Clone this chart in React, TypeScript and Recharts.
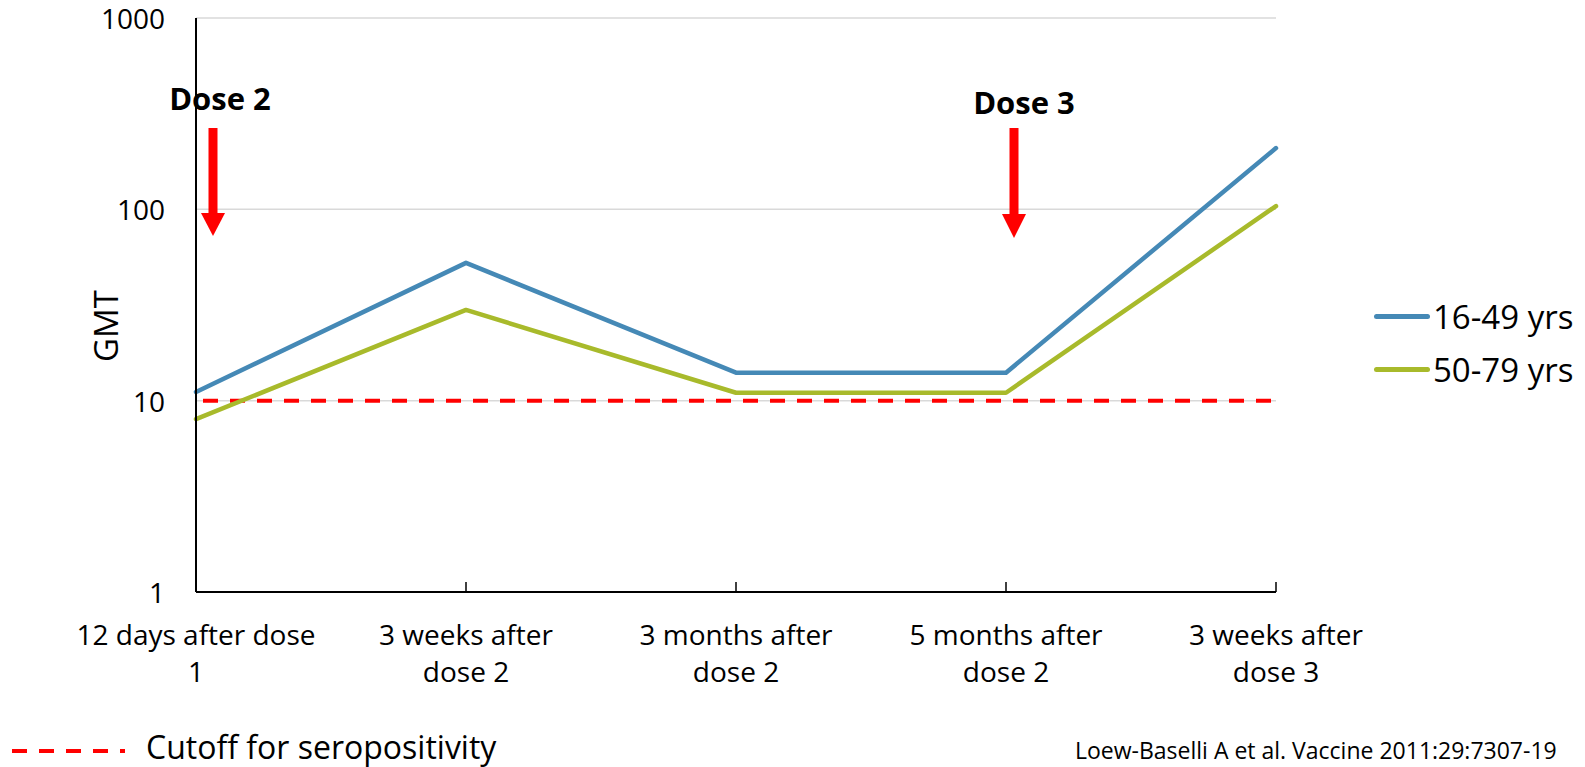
import { LineChart, Line, XAxis, YAxis, CartesianGrid, ReferenceLine } from 'recharts'

const categories = [
  '12 days after dose\n1',
  '3 weeks after\ndose 2',
  '3 months after\ndose 2',
  '5 months after\ndose 2',
  '3 weeks after\ndose 3',
]
const young = [11.1, 52.5, 14, 14, 209]
const older = [8.0, 29.8, 11, 11, 104]
const cutoff = 10
const yTicks = [1, 10, 100, 1000]

const series = [
  { key: 'young', name: '16-49 yrs', color: '#4589B6' },
  { key: 'older', name: '50-79 yrs', color: '#A8BA2B' },
]

const data = categories.map((label, i) => ({ label, young: young[i], older: older[i] }))

const FONT = '"Open Sans", "Noto Sans", sans-serif'

function CategoryTick(props: any) {
  const { x, y, payload } = props
  const lines = String(payload.value).split('\n')
  return (
    <g>
      {lines.map((ln, i) => (
        <text
          key={i}
          x={x}
          y={y + 52 + i * 37}
          textAnchor="middle"
          dominantBaseline="central"
          fontSize={28}
          fill="#000"
          fontFamily={FONT}
        >
          {ln}
        </text>
      ))}
    </g>
  )
}

function ValueTick(props: any) {
  const { x, y, payload } = props
  return (
    <text x={x} y={y} textAnchor="end" dominantBaseline="central" fontSize={28} fill="#000" fontFamily={FONT}>
      {payload.value}
    </text>
  )
}

export default function App() {
  return (
    <div style={{ position: 'absolute', left: 0, top: 0, width: 1585, height: 767, background: '#fff', overflow: 'hidden', fontFamily: FONT }}>
      <LineChart width={1585} height={767} data={data} margin={{ top: 18, right: 309, left: 0, bottom: 0 }}>
        <CartesianGrid horizontal vertical={false} stroke="#d9d9d9" strokeWidth={1.5} />
        <XAxis
          dataKey="label"
          height={175}
          axisLine={{ stroke: '#000', strokeWidth: 2 }}
          tickLine={{ stroke: '#000', strokeWidth: 1.5 }}
          tickSize={-10}
          tickMargin={0}
          tick={<CategoryTick />}
          interval={0}
        />
        <YAxis
          scale="log"
          domain={[1, 1000]}
          ticks={yTicks}
          width={196}
          axisLine={{ stroke: '#000', strokeWidth: 2 }}
          tickLine={false}
          tickSize={0}
          tickMargin={31}
          tick={<ValueTick />}
        />
        <ReferenceLine y={cutoff} stroke="#FF0000" strokeWidth={4} strokeDasharray="15 12" strokeDashoffset={-7} />
        {series.map((s) => (
          <Line
            key={s.key}
            dataKey={s.key}
            name={s.name}
            stroke={s.color}
            strokeWidth={4.5}
            strokeLinecap="round"
            strokeLinejoin="round"
            dot={false}
            activeDot={false}
            type="linear"
            isAnimationActive={false}
          />
        ))}
      </LineChart>

      {/* series legend */}
      <div style={{ position: 'absolute', left: 1374, top: 290, fontFamily: FONT }}>
        {series.map((s) => (
          <div key={s.key} style={{ display: 'flex', alignItems: 'center', height: 53 }}>
            <div style={{ width: 56, height: 5, borderRadius: 3, background: s.color }} />
            <span style={{ fontSize: 33, marginLeft: 3, color: '#000', lineHeight: 1 }}>{s.name}</span>
          </div>
        ))}
      </div>

      {/* axis title and dose annotations */}
      <svg width={1585} height={767} style={{ position: 'absolute', left: 0, top: 0, pointerEvents: 'none' }}>
        <text
          x={105}
          y={326}
          transform="rotate(-90 105 326)"
          textAnchor="middle"
          dominantBaseline="central"
          fontSize={33}
          fontFamily={FONT}
          fill="#000"
        >
          GMT
        </text>
        <text x={220} y={98} textAnchor="middle" dominantBaseline="central" fontSize={31} fontWeight={700} fontFamily={FONT} fill="#000">
          Dose 2
        </text>
        <rect x={208.5} y={128} width={9} height={86} fill="#FF0000" />
        <polygon points="201,213 225,213 213,236" fill="#FF0000" />
        <text x={1024} y={102} textAnchor="middle" dominantBaseline="central" fontSize={31} fontWeight={700} fontFamily={FONT} fill="#000">
          Dose 3
        </text>
        <rect x={1009.5} y={128} width={9} height={87} fill="#FF0000" />
        <polygon points="1002,214 1026,214 1014,238" fill="#FF0000" />

        {/* bottom key */}
        <line x1={12} y1={751} x2={125} y2={751} stroke="#FF0000" strokeWidth={4} strokeDasharray="15 12" />
        <text x={146} y={746} dominantBaseline="central" fontSize={32} fontFamily={FONT} fill="#000">
          Cutoff for seropositivity
        </text>
        <text x={1075} y={750} dominantBaseline="central" fontSize={23} fontFamily={FONT} fill="#000">
          Loew-Baselli A et al. Vaccine 2011:29:7307-19
        </text>
      </svg>
    </div>
  )
}
